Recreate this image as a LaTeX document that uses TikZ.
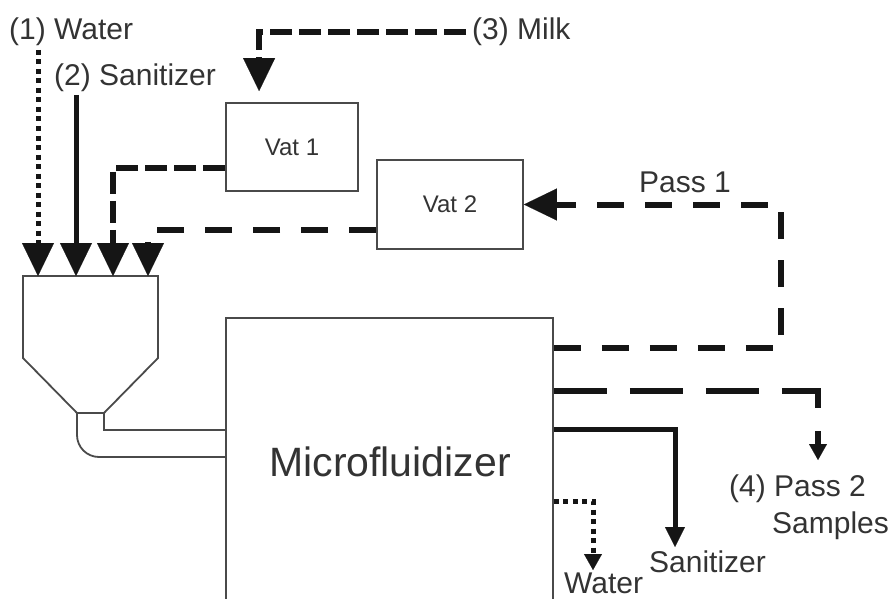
\documentclass[tikz,border=0pt]{standalone}
\usepackage{fontspec}
\setmainfont{Liberation Sans}
\usetikzlibrary{arrows.meta,calc}
\definecolor{boxc}{HTML}{4A4A4A}
\definecolor{linec}{HTML}{151515}
\definecolor{txtc}{HTML}{333333}
\begin{document}
\begin{tikzpicture}[x=1pt,y=-1pt,
  box/.style={draw=boxc,line width=1.8pt,rectangle,inner sep=0pt,text=txtc},
  lbl/.style={text=txtc,font=\fontsize{30}{32}\selectfont,inner sep=0pt},
  thickdash/.style={draw=linec,line width=6pt,dash pattern=on 27pt off 21pt},
  finedash/.style={draw=linec,line width=6pt,dash pattern=on 22pt off 7pt},
  longdash/.style={draw=linec,line width=6pt,dash pattern=on 53pt off 23pt},
  dots/.style={draw=linec,line width=5pt,dash pattern=on 5pt off 4.5pt},
  solidln/.style={draw=linec,line width=5pt},
  bigtip/.style={-{Triangle[length=33pt,width=32pt,line width=0.1pt]}},
  smalltip/.style={-{Triangle[length=16pt,width=18pt,line width=0.1pt]}},
  midtip/.style={-{Triangle[length=20pt,width=20pt,line width=0.1pt]}},
]
\useasboundingbox (0,0) rectangle (896,599);
\clip (0,0) rectangle (896,599);

% vessels
\node[box,minimum width=132pt,minimum height=88pt,font=\fontsize{24}{26}\selectfont] (vat1) at (292,147) {Vat 1};
\node[box,minimum width=146pt,minimum height=89pt,font=\fontsize{24}{26}\selectfont] (vat2) at (450,204.5) {Vat 2};
\node[box,minimum width=327pt,minimum height=300pt] (micro) at (389.5,468) {};
\node[text=txtc,font=\fontsize{41}{44}\selectfont,inner sep=0pt] (microtxt) at (390,462) {Microfluidizer};

% hopper
\draw[boxc,line width=1.8pt,line join=miter] (23,276) -- (158,276) -- (158,358) -- (104,413) -- (77,413) -- (23,358) -- cycle;
\coordinate (h1) at (38,276);
\coordinate (h2) at (76,276);
\coordinate (h3) at (113,276);
\coordinate (h4) at (148,276);
\coordinate (p1) at (226,430);
\coordinate (p2) at (226,457);
\draw[boxc,line width=1.8pt] (104,413) -- (104,430) -- (p1);
\draw[boxc,line width=1.8pt,rounded corners=22pt] (77,413) -- (77,457) -- (p2);

% labels
\node[lbl,anchor=west] (l1) at (9,32) {(1) Water};
\node[lbl,anchor=west] (l2) at (54,78) {(2) Sanitizer};
\node[lbl,anchor=west] (l3) at (472,32) {(3) Milk};
\node[lbl] (lp1) at (685,182) {Pass 1};
\node[lbl,anchor=west] (lp2) at (729,489) {(4) Pass 2};
\node[lbl,anchor=west] (lsam) at (772,526) {Samples};
\node[lbl,anchor=west] (lsan) at (649,562) {Sanitizer};
\node[lbl,anchor=west] (lwat) at (564,583) {Water};

% inputs to hopper
\coordinate (w1s) at (38,50);
\coordinate (s2s) at (76,95);
\draw[dots,bigtip] (w1s) -- (h1);
\draw[solidln,bigtip] (s2s) -- (h2);
\draw[finedash,bigtip] ($(vat1.west)+(0,21)$) -| (h3);
\draw[thickdash,bigtip] ($(vat2.west)+(0,25.5)$) -| (h4);

% milk into vat 1
\coordinate (m0) at (466,32);
\draw[finedash,bigtip] (m0) -| ($(vat1.north west)+(34,-11)$);

% pass 1 return
\draw[thickdash,bigtip] ($(micro.north east)+(0,31)$) -- ++(227,0) |- (vat2.east);

% outputs
\coordinate (o2) at (818,460);
\coordinate (o3) at (675,547);
\coordinate (o4) at (593,570);
\draw[longdash,smalltip] ($(micro.north east)+(0,74)$) -| (o2);
\draw[solidln,midtip] ($(micro.north east)+(0,112)$) -| (o3);
\draw[dots,smalltip] ($(micro.north east)+(0,184)$) -| (o4);
\end{tikzpicture}
\end{document}
